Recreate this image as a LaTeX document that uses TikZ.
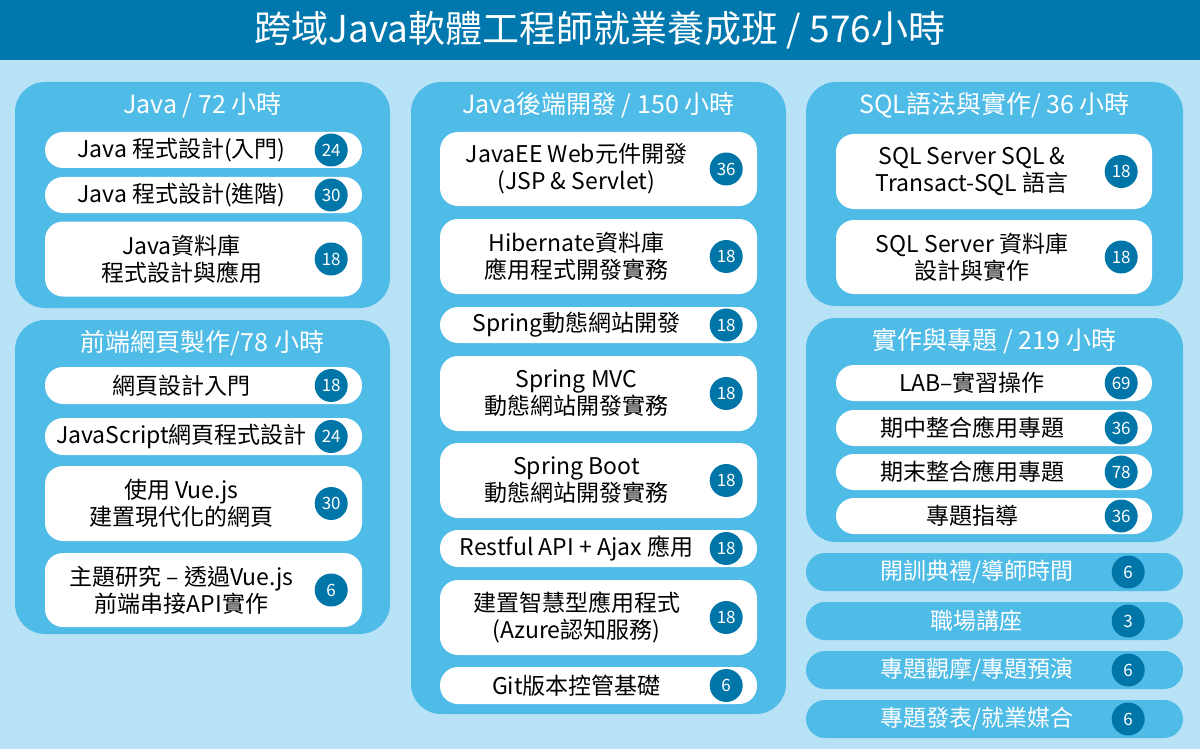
\documentclass[tikz,border=0pt]{standalone}
\usepackage{fontspec}
\setmainfont{Noto Sans CJK TC}
\definecolor{bgc}{HTML}{B8E3F7}
\definecolor{barc}{HTML}{0077AD}
\definecolor{panc}{HTML}{4FBBE7}
\definecolor{badc}{HTML}{0076A8}
\newcommand\crs[7]{%
  \node[itembox, minimum width=#4, minimum height=#5] (#1) at (#2,#3) {};
  \node[itemtext] (#1-t) at ([xshift=-22pt]#1.center) {#6};
  \node[badge] (#1-b) at ([xshift=-31pt]#1.east) {#7};}
\newcommand\evt[4]{%
  \node[panel, minimum width=377, minimum height=38, rounded corners=19pt] (#1) at (994.5,#2) {};
  \node[itemtext, text=white] (#1-t) at ([xshift=-18pt]#1.center) {#3};
  \node[badge] (#1-b) at ([xshift=-55pt]#1.east) {#4};}
\begin{document}
\begin{tikzpicture}[x=1pt,y=-1pt,
  panel/.style={fill=panc, inner sep=0pt, rounded corners=30pt},
  itembox/.style={fill=white, inner sep=0pt, rounded corners=18pt},
  itemtext/.style={align=center, inner sep=0pt, text=black, font=\fontsize{23}{27}\selectfont},
  ptitle/.style={inner sep=0pt, text=white, font=\fontsize{25}{29}\selectfont},
  badge/.style={circle, fill=badc, minimum size=33pt, inner sep=0pt, text=white, font=\fontsize{17}{20}\selectfont}]
\useasboundingbox (0,0) rectangle (1200,749);
\fill[bgc] (0,0) rectangle (1200,749);
\node[fill=barc, minimum width=1200, minimum height=60, inner sep=0pt] (bar) at (600,30) {};
\node[text=white, font=\fontsize{37}{42}\selectfont, inner sep=0pt] (title) at (bar.center) {跨域Java軟體工程師就業養成班 / 576小時};
% panels
\node[panel, minimum width=375, minimum height=226] (pjava) at (202.5,195) {};
\node[panel, minimum width=375, minimum height=314] (pfront) at (202.5,477) {};
\node[panel, minimum width=375, minimum height=632] (pback) at (598.5,398) {};
\node[panel, minimum width=377, minimum height=224] (psql) at (994.5,194) {};
\node[panel, minimum width=377, minimum height=224] (pproj) at (994.5,430) {};
% titles
\node[ptitle] (tjava) at (202.5,105) {Java / 72 小時};
\node[ptitle] (tfront) at (202.5,343) {前端網頁製作/78 小時};
\node[ptitle] (tback) at (598.5,105) {Java後端開發 / 150 小時};
\node[ptitle] (tsql) at (994.5,105) {SQL語法與實作/ 36 小時};
\node[ptitle] (tproj) at (994.5,341) {實作與專題 / 219 小時};
% left
\crs{j1}{203.5}{150}{317}{36}{Java 程式設計(入門)}{24}
\crs{j2}{203.5}{195}{317}{36}{Java 程式設計(進階)}{30}
\crs{j3}{203.5}{259}{317}{75}{Java資料庫\\程式設計與應用}{18}
\crs{f1}{203.5}{385.5}{317}{37}{網頁設計入門}{18}
\crs{f2}{203.5}{436.5}{317}{37}{JavaScript網頁程式設計}{24}
\crs{f3}{203.5}{503.5}{317}{75}{使用 Vue.js\\建置現代化的網頁}{30}
\crs{f4}{203.5}{590}{317}{74}{主題研究 – 透過Vue.js\\前端串接API實作}{6}
% middle
\crs{b1}{598.5}{169}{317}{74}{JavaEE Web元件開發\\(JSP \& Servlet)}{36}
\crs{b2}{598.5}{256.5}{317}{75}{Hibernate資料庫\\應用程式開發實務}{18}
\crs{b3}{598.5}{325}{317}{36}{Spring動態網站開發}{18}
\crs{b4}{598.5}{393.5}{317}{75}{Spring MVC\\動態網站開發實務}{18}
\crs{b5}{598.5}{480.5}{317}{75}{Spring Boot\\動態網站開發實務}{18}
\crs{b6}{598.5}{548.5}{317}{37}{Restful API + Ajax 應用}{18}
\crs{b7}{598.5}{617.5}{317}{75}{建置智慧型應用程式\\(Azure認知服務)}{18}
\crs{b8}{598.5}{685.5}{317}{37}{Git版本控管基礎}{6}
% right
\crs{s1}{994}{171.5}{316}{75}{SQL Server SQL \&\\Transact-SQL 語言}{18}
\crs{s2}{994}{257}{316}{74}{SQL Server 資料庫\\設計與實作}{18}
\crs{p1}{994}{383}{316}{36}{LAB–實習操作}{69}
\crs{p2}{994}{428}{316}{36}{期中整合應用專題}{36}
\crs{p3}{994}{472}{316}{36}{期末整合應用專題}{78}
\crs{p4}{994}{516}{316}{36}{專題指導}{36}
% events
\evt{e1}{572}{開訓典禮/導師時間}{6}
\evt{e2}{621}{職場講座}{3}
\evt{e3}{670}{專題觀摩/專題預演}{6}
\evt{e4}{719}{專題發表/就業媒合}{6}
\end{tikzpicture}
\end{document}
